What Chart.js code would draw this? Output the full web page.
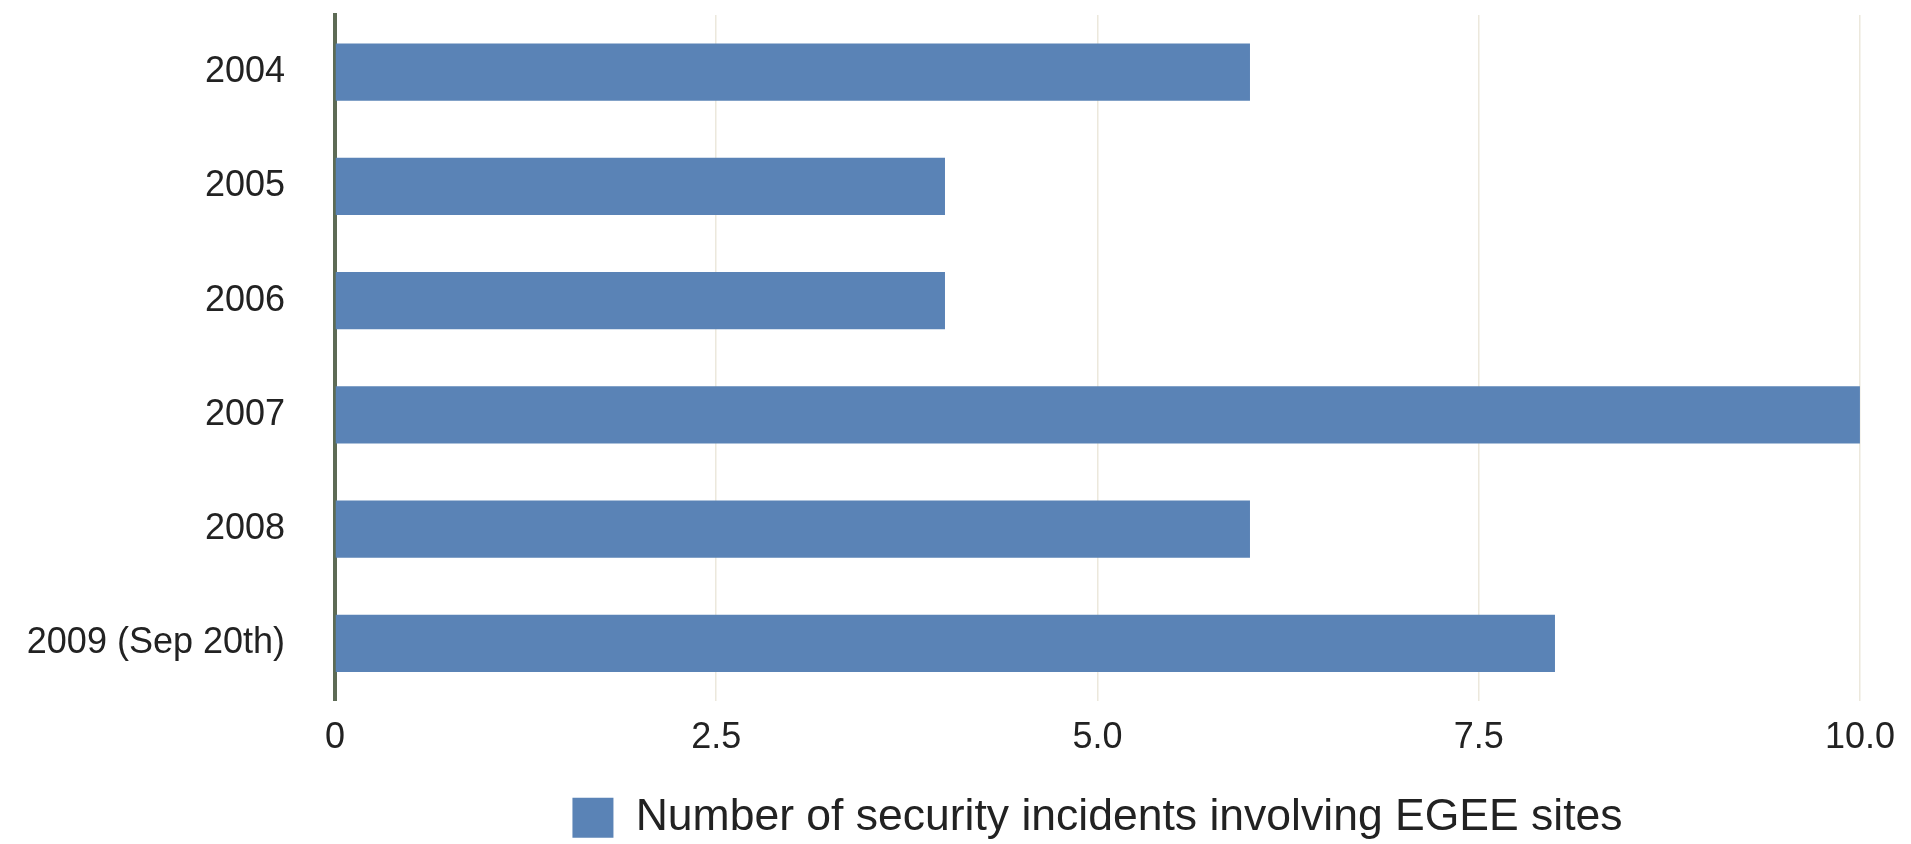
<!DOCTYPE html>
<html>
<head>
<meta charset="utf-8">
<script src="https://cdn.jsdelivr.net/npm/chart.js@4/dist/chart.umd.min.js"></script>
<style>
  html, body { margin: 0; padding: 0; background: #ffffff; }
  #wrap { width: 1911px; height: 844px; }
</style>
</head>
<body>
<div id="wrap"><canvas id="c" width="1911" height="844"></canvas></div>
<script>
const categories = ["2004", "2005", "2006", "2007", "2008", "2009 (Sep 20th)"];
const seriesLabel = "Number of security incidents involving EGEE sites";
const incidents = [6, 4, 4, 10, 6, 8];
const xTickValues = [0, 2.5, 5.0, 7.5, 10.0];
const xTickLabels = ["0", "2.5", "5.0", "7.5", "10.0"];

const FONT = "'Liberation Sans', Arial, Helvetica, sans-serif";

new Chart(document.getElementById('c'), {
  type: 'bar',
  data: {
    labels: categories,
    datasets: [{
      label: seriesLabel,
      data: incidents,
      backgroundColor: '#5a83b6',
      borderWidth: 0,
      barPercentage: 0.5,
      categoryPercentage: 1.0
    }]
  },
  options: {
    indexAxis: 'y',
    responsive: false,
    devicePixelRatio: 1,
    animation: false,
    layout: { padding: { top: 15, right: 43, bottom: -6, left: 0 } },
    plugins: {
      tooltip: { enabled: false },
      legend: {
        position: 'bottom',
        fullSize: false,
        labels: {
          boxWidth: 41,
          boxHeight: 40,
          padding: 0,
          color: '#222222',
          font: { family: FONT, size: 44.5 }
        }
      }
    },
    scales: {
      x: {
        min: 0,
        max: 10,
        afterBuildTicks: (scale) => { scale.ticks = xTickValues.map(v => ({ value: v })); },
        afterFit: (scale) => { scale.height = 95; },
        ticks: {
          padding: 16,
          color: '#222222',
          font: { family: FONT, size: 36 },
          maxRotation: 0,
          callback: (v, i) => xTickLabels[i]
        },
        grid: { color: '#ece8dc', lineWidth: 1.5, drawTicks: false },
        border: { display: false }
      },
      y: {
        afterFit: (scale) => {
          scale.width = 335;
          scale.paddingTop = 0;
          scale.paddingBottom = 0;
        },
        ticks: {
          padding: 50,
          color: '#222222',
          font: { family: FONT, size: 36 }
        },
        grid: { display: false, drawTicks: false },
        border: { display: true, color: '#5d6b55', width: 4 }
      }
    }
  }
});
</script>
</body>
</html>
